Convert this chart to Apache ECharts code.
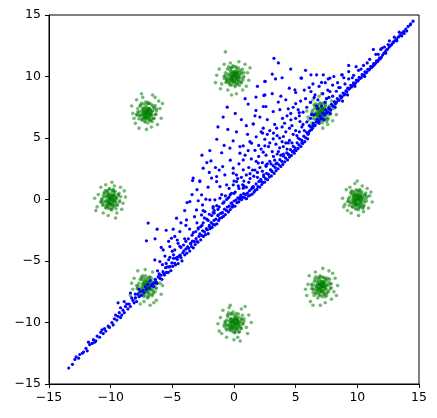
<!DOCTYPE html>
<html>
<head>
<meta charset="utf-8">
<script src="https://cdn.jsdelivr.net/npm/echarts@6/dist/echarts.min.js"></script>
<style>html,body{margin:0;padding:0;background:#fff;}#c{width:437px;height:418px;}</style>
</head>
<body>
<div id="c"></div>
<script>
// Axis ticks
var xTicks = [-15, -10, -5, 0, 5, 10, 15];
var yTicks = [-15, -10, -5, 0, 5, 10, 15];

// Green target clusters
var greenE = [[10.1,0.2],[9.8,-0.1],[10.3,-0.3],[9.6,0.4],[10.0,0.0],[10.4,0.3],[9.9,-0.5],[10.2,-0.2],[9.7,0.1],[10.5,0.0],[9.5,-0.3],[10.1,0.6],[9.9,0.3],[10.3,0.5],[9.6,-0.6],[10.0,-0.4],[10.6,-0.2],[9.4,0.2],[10.2,0.1],[9.8,0.5],[10.4,-0.5],[9.7,-0.2],[10.0,0.4],[10.1,-0.7],[9.9,0.0],[10.3,0.2],[9.5,0.6],[10.6,0.4],[9.8,-0.4],[10.2,-0.6],[9.6,0.0],[10.0,0.7],[10.5,-0.6],[9.3,-0.1],[10.7,0.1],[9.9,-0.8],[10.2,0.8],[9.7,0.3],[11.0,0.3],[9.0,-0.4],[10.4,1.1],[9.5,-1.1],[10.9,-0.7],[9.1,0.8],[10.1,-1.3],[9.8,1.3],[11.2,-0.2],[8.8,0.1],[10.8,0.9],[9.2,-0.9],[10.5,-1.0],[9.4,1.0],[11.1,0.6],[8.9,-0.6],[10.0,1.5]];
var greenECore = [[10.05,0.12],[9.87,-0.08],[10.21,-0.15],[9.93,0.27],[10.14,0.33],[9.78,0.05],[10.32,0.02],[9.96,-0.31],[10.08,-0.02],[9.82,-0.24],[10.27,0.19],[9.71,0.22],[10.17,-0.38],[10.01,0.41],[9.89,0.15],[10.39,-0.21],[9.64,-0.13],[10.11,0.06],[9.94,-0.17],[10.23,0.36],[9.76,0.38],[10.04,-0.44],[10.42,0.14],[9.85,-0.41],[9.98,0.09],[10.28,-0.06],[9.69,-0.33],[10.13,0.25]];
var greenEMid = [[10.62,0.31],[9.41,-0.22],[10.18,0.71],[9.83,-0.69],[10.55,-0.47],[9.47,0.53],[10.74,-0.12],[9.28,0.08],[10.36,0.62],[9.62,-0.58],[10.09,-0.83],[9.91,0.79],[10.68,0.52],[9.35,-0.49],[10.44,-0.73],[9.56,0.71],[10.81,0.24],[9.22,-0.17],[10.25,-0.59],[9.74,0.62]];
var greenNE = [[7.1,7.2],[6.8,6.9],[7.4,6.8],[6.6,7.4],[7.0,7.0],[7.3,7.4],[6.9,6.6],[7.2,6.9],[6.7,7.1],[7.6,7.1],[6.5,6.8],[7.1,7.7],[6.9,7.3],[7.4,7.6],[6.6,6.5],[7.0,6.7],[7.7,6.9],[6.4,7.3],[7.3,7.1],[6.8,7.6],[7.5,6.6],[6.7,6.9],[7.1,7.5],[7.2,6.4],[6.9,7.0],[7.4,7.2],[6.5,7.7],[7.7,7.5],[6.8,6.7],[7.2,6.5],[6.6,7.0],[7.0,7.8],[7.6,6.5],[6.3,7.0],[7.8,7.2],[6.9,6.3],[7.3,7.9],[6.7,7.4],[8.1,7.4],[6.0,6.7],[7.5,8.2],[6.5,6.0],[8.0,6.4],[6.2,7.9],[7.2,5.8],[6.9,8.4],[8.3,6.9],[5.9,7.2],[7.9,8.0],[6.3,6.2],[7.6,6.1],[6.4,8.1],[8.2,7.7],[6.0,6.4],[7.1,8.6]];
var greenNECore = [[7.12,7.18],[6.95,6.99],[7.28,6.92],[7.01,7.34],[7.21,7.40],[6.85,7.11],[7.39,7.09],[7.03,6.76],[7.15,7.05],[6.89,6.83],[7.34,7.26],[6.78,7.29],[7.24,6.69],[7.08,7.48],[6.96,7.22],[7.46,6.86],[6.71,6.94],[7.18,7.13],[7.01,6.90],[7.30,7.43],[6.83,7.45],[7.11,6.63],[7.49,7.21],[6.92,6.66],[7.05,7.16],[7.35,7.01],[6.76,6.74],[7.20,7.32]];
var greenNEMid = [[7.69,7.38],[6.48,6.85],[7.25,7.78],[6.90,6.38],[7.62,6.60],[6.54,7.60],[7.81,6.95],[6.35,7.15],[7.43,7.69],[6.69,6.49],[7.16,6.24],[6.98,7.86],[7.75,7.59],[6.42,6.58],[7.51,6.34],[6.63,7.78],[7.88,7.31],[6.29,6.90],[7.32,6.48],[6.81,7.69]];
var greenN = [[0.1,10.1],[-0.3,9.8],[0.4,10.3],[-0.1,9.6],[0.2,9.9],[-0.5,10.2],[0.3,9.7],[0.0,10.4],[-0.2,10.0],[0.5,9.9],[-0.4,9.5],[0.2,10.6],[-0.6,9.9],[0.6,10.2],[-0.1,10.3],[0.3,9.4],[-0.3,10.5],[0.1,9.8],[0.4,10.0],[-0.5,9.7],[0.0,9.5],[0.7,9.7],[-0.2,10.7],[0.2,10.2],[-0.7,10.3],[0.5,10.5],[-0.4,10.1],[0.1,9.3],[-0.1,10.0],[0.3,10.4],[-0.6,9.6],[0.6,9.5],[0.0,10.8],[-0.3,9.3],[0.4,9.6],[-0.2,9.8],[0.8,10.0],[-0.8,10.0],[1.1,10.3],[-1.0,9.4],[0.4,11.2],[-0.5,8.9],[1.0,9.2],[-1.2,10.6],[0.2,8.6],[-0.3,11.1],[1.3,10.7],[-1.1,9.0],[0.9,11.0],[-0.8,11.0],[0.7,8.9],[-1.4,10.1],[1.2,9.7],[-0.2,8.5],[-1.5,9.5],[-0.7,12.0]];
var greenNCore = [[0.08,10.11],[-0.13,9.92],[0.21,9.85],[-0.06,10.27],[0.14,10.33],[-0.22,10.04],[0.32,10.02],[-0.04,9.69],[0.08,9.98],[-0.18,9.76],[0.27,10.19],[-0.29,10.22],[0.17,9.62],[0.01,10.41],[-0.11,10.15],[0.39,9.79],[-0.36,9.87],[0.11,10.06],[-0.06,9.83],[0.23,10.36],[-0.24,10.38],[0.04,9.56],[0.42,10.14],[-0.15,9.59],[-0.02,10.09],[0.28,9.94],[-0.31,9.67],[0.13,10.25]];
var greenNMid = [[0.62,10.35],[-0.59,9.78],[0.18,10.78],[-0.17,9.31],[0.55,9.53],[-0.53,10.60],[0.74,9.88],[-0.72,10.08],[0.36,10.69],[-0.38,9.42],[0.09,9.17],[-0.09,10.86],[0.68,10.59],[-0.65,9.51],[0.44,9.27],[-0.44,10.78],[0.81,10.31],[-0.78,9.83],[0.25,9.41],[-0.26,10.69]];
var greenNW = [[-7.0,7.1],[-7.3,6.9],[-6.8,7.3],[-7.5,7.2],[-7.1,6.7],[-6.7,6.9],[-7.2,7.5],[-6.9,7.0],[-7.6,6.8],[-7.4,7.4],[-6.6,7.2],[-7.0,6.5],[-7.2,7.0],[-6.8,6.7],[-7.7,7.1],[-6.5,7.5],[-7.3,6.6],[-7.1,7.7],[-6.9,7.4],[-7.5,6.5],[-6.7,6.5],[-7.0,7.3],[-7.8,7.4],[-6.4,6.9],[-7.2,6.3],[-6.9,7.8],[-7.4,7.0],[-6.6,7.6],[-7.1,6.9],[-7.6,7.6],[-6.8,6.4],[-7.3,7.2],[-6.5,6.6],[-7.0,7.9],[-7.9,6.9],[-6.3,7.2],[-7.2,6.6],[-6.9,6.8],[-8.2,7.0],[-6.0,7.4],[-7.4,8.3],[-6.7,5.9],[-8.0,6.2],[-6.1,8.0],[-7.7,5.8],[-6.4,8.3],[-8.3,7.6],[-5.9,6.6],[-7.9,8.1],[-6.2,6.1],[-7.1,5.7],[-6.6,8.5],[-8.1,6.6],[-5.8,7.8],[-7.5,8.6]];
var greenNWCore = [[-7.02,7.15],[-7.19,6.96],[-6.86,6.89],[-7.13,7.31],[-6.93,7.37],[-7.29,7.08],[-6.75,7.06],[-7.11,6.73],[-6.99,7.02],[-7.25,6.80],[-6.80,7.23],[-7.36,7.26],[-6.90,6.66],[-7.06,7.45],[-7.18,7.19],[-6.68,6.83],[-7.43,6.91],[-6.96,7.10],[-7.13,6.87],[-6.84,7.40],[-7.31,7.42],[-7.03,6.60],[-6.65,7.18],[-7.22,6.63],[-7.09,7.13],[-6.79,6.98],[-7.38,6.71],[-6.94,7.29]];
var greenNWMid = [[-6.45,7.40],[-7.66,6.83],[-6.89,7.81],[-7.24,6.36],[-6.52,6.58],[-7.60,7.65],[-6.33,6.93],[-7.79,7.13],[-6.71,7.74],[-7.45,6.47],[-6.98,6.22],[-7.16,7.93],[-6.39,7.64],[-7.72,6.56],[-6.63,6.32],[-7.51,7.83],[-6.26,7.36],[-7.85,6.88],[-6.82,6.46],[-7.33,7.76]];
var greenW = [[-10.1,0.1],[-9.8,-0.2],[-10.3,0.3],[-9.7,0.4],[-10.0,-0.4],[-10.4,-0.1],[-9.9,0.6],[-10.2,-0.6],[-9.6,-0.1],[-10.5,0.2],[-10.0,0.2],[-9.8,0.3],[-10.2,0.5],[-10.6,-0.4],[-9.5,0.1],[-10.1,-0.3],[-9.9,-0.7],[-10.3,0.7],[-9.7,-0.5],[-10.7,0.0],[-9.4,0.4],[-10.0,0.0],[-10.4,-0.7],[-9.8,0.8],[-10.2,-0.2],[-9.6,0.2],[-10.5,0.5],[-10.1,0.4],[-9.9,-0.4],[-10.3,-0.5],[-9.5,-0.4],[-10.0,-0.8],[-10.6,0.3],[-9.3,-0.2],[-10.8,-0.2],[-9.7,0.6],[-10.1,0.9],[-9.9,0.0],[-11.0,0.4],[-9.0,-0.3],[-10.4,1.2],[-9.5,-1.1],[-11.1,-0.6],[-8.9,0.7],[-10.2,-1.3],[-9.7,1.1],[-11.3,0.1],[-9.1,-0.8],[-10.8,1.0],[-9.2,1.0],[-10.6,-1.1],[-9.6,-1.5],[-11.2,-0.9],[-8.8,0.2],[-9.9,1.4]];
var greenWCore = [[-9.95,0.09],[-10.13,-0.10],[-9.79,-0.17],[-10.06,0.25],[-9.86,0.31],[-10.22,0.02],[-9.68,0.00],[-10.04,-0.33],[-9.92,-0.04],[-10.18,-0.26],[-9.73,0.17],[-10.29,0.20],[-9.83,-0.40],[-9.99,0.39],[-10.11,0.13],[-9.61,-0.23],[-10.36,-0.15],[-9.89,0.04],[-10.06,-0.19],[-9.77,0.34],[-10.24,0.36],[-9.96,-0.46],[-9.58,0.12],[-10.15,-0.43],[-10.02,0.07],[-9.72,-0.08],[-10.31,-0.35],[-9.87,0.23]];
var greenWMid = [[-9.38,0.35],[-10.59,-0.20],[-9.82,0.74],[-10.17,-0.71],[-9.45,-0.49],[-10.53,0.55],[-9.26,-0.10],[-10.72,0.06],[-9.64,0.67],[-10.38,-0.60],[-9.91,-0.85],[-10.09,0.81],[-9.32,0.50],[-10.65,-0.47],[-9.56,-0.75],[-10.44,0.73],[-9.19,0.22],[-10.78,-0.19],[-9.75,-0.61],[-10.26,0.64]];
var greenSW = [[-7.1,-7.0],[-6.8,-7.3],[-7.4,-6.9],[-6.9,-6.6],[-7.2,-7.4],[-7.5,-7.1],[-6.7,-7.0],[-7.0,-7.6],[-7.3,-6.7],[-6.6,-7.4],[-7.6,-7.5],[-7.0,-6.8],[-6.8,-6.9],[-7.4,-7.3],[-7.2,-6.5],[-6.5,-7.1],[-7.7,-6.8],[-6.9,-7.8],[-7.1,-7.2],[-7.3,-7.9],[-6.7,-6.6],[-7.8,-7.2],[-6.4,-6.9],[-7.0,-6.4],[-7.5,-6.5],[-6.6,-7.7],[-7.2,-7.0],[-6.9,-7.2],[-7.6,-7.8],[-6.4,-7.5],[-7.9,-7.0],[-7.1,-6.6],[-6.8,-6.3],[-7.3,-7.5],[-6.6,-6.8],[-7.4,-6.2],[-7.0,-8.0],[-6.3,-7.2],[-8.2,-7.3],[-6.0,-6.8],[-7.3,-8.3],[-6.6,-5.9],[-8.1,-6.4],[-5.9,-7.7],[-7.8,-5.8],[-6.3,-8.2],[-8.4,-7.8],[-6.1,-6.2],[-7.6,-8.5],[-5.8,-7.0],[-8.0,-8.0],[-6.8,-8.6],[-7.2,-5.7],[-8.3,-6.8],[-6.5,-8.4]];
var greenSWCore = [[-7.02,-7.15],[-7.19,-6.96],[-6.86,-7.25],[-7.13,-6.83],[-6.93,-6.77],[-7.29,-7.06],[-6.75,-7.08],[-7.11,-7.41],[-6.99,-7.12],[-7.25,-7.34],[-6.80,-6.91],[-7.36,-6.88],[-6.90,-7.48],[-7.06,-6.69],[-7.18,-6.95],[-6.68,-7.31],[-7.43,-7.23],[-6.96,-7.04],[-7.13,-7.27],[-6.84,-6.74],[-7.31,-6.72],[-7.03,-7.54],[-6.65,-6.96],[-7.22,-7.51],[-7.09,-7.01],[-6.79,-7.16],[-7.38,-7.43],[-6.94,-6.85]];
var greenSWMid = [[-6.45,-6.74],[-7.66,-7.31],[-6.89,-6.33],[-7.24,-7.78],[-6.52,-7.56],[-7.60,-6.49],[-6.33,-7.21],[-7.79,-7.01],[-6.71,-6.40],[-7.45,-7.67],[-6.98,-7.92],[-7.16,-6.21],[-6.39,-6.50],[-7.72,-7.58],[-6.63,-7.82],[-7.51,-6.31],[-6.26,-6.78],[-7.85,-7.26],[-6.82,-7.68],[-7.33,-6.38]];
var greenS = [[0.0,-10.1],[0.3,-9.8],[-0.2,-10.3],[0.4,-10.2],[-0.4,-9.9],[0.1,-9.6],[-0.1,-10.5],[0.5,-10.0],[-0.3,-9.7],[0.2,-10.4],[-0.5,-10.2],[0.6,-9.7],[-0.2,-10.0],[0.1,-10.7],[-0.6,-9.8],[0.3,-10.5],[0.0,-9.4],[-0.4,-10.4],[0.5,-10.3],[-0.1,-9.8],[0.7,-10.1],[-0.3,-10.6],[0.2,-9.5],[-0.7,-10.0],[0.4,-9.6],[-0.2,-9.3],[0.3,-10.0],[-0.5,-9.5],[0.0,-10.8],[0.6,-10.5],[-0.6,-10.6],[0.1,-10.2],[-0.3,-10.1],[0.8,-9.9],[-0.8,-10.3],[0.2,-9.8],[-0.1,-9.9],[0.4,-10.8],[1.0,-10.4],[-1.1,-9.6],[0.3,-11.2],[-0.4,-8.8],[1.2,-9.4],[-1.0,-10.9],[0.6,-8.9],[-0.6,-11.2],[1.1,-10.9],[-1.3,-10.1],[0.9,-8.7],[-0.9,-9.0],[0.0,-11.4],[1.4,-10.0],[-1.2,-10.7],[0.5,-11.5],[-0.3,-8.6]];
var greenSCore = [[0.06,-10.12],[-0.11,-9.93],[0.22,-10.21],[-0.05,-9.80],[0.15,-9.74],[-0.21,-10.03],[0.33,-10.05],[-0.03,-10.38],[0.09,-10.09],[-0.17,-10.31],[0.28,-9.88],[-0.28,-9.85],[0.18,-10.45],[0.02,-9.66],[-0.10,-9.92],[0.40,-10.28],[-0.35,-10.20],[0.12,-10.01],[-0.05,-10.24],[0.24,-9.71],[-0.23,-9.69],[0.05,-10.51],[0.43,-9.93],[-0.14,-10.48],[-0.01,-9.98],[0.29,-10.13],[-0.30,-10.40],[0.14,-9.82]];
var greenSMid = [[0.62,-9.79],[-0.59,-10.22],[0.18,-9.26],[-0.17,-10.69],[0.55,-10.47],[-0.53,-9.40],[0.74,-10.12],[-0.72,-9.92],[0.36,-9.31],[-0.38,-10.58],[0.09,-10.83],[-0.09,-9.14],[0.68,-9.41],[-0.65,-10.49],[0.44,-10.73],[-0.44,-9.22],[0.81,-9.69],[-0.78,-10.17],[0.25,-10.59],[-0.26,-9.31]];
var greenSE = [[7.1,-7.1],[6.8,-6.9],[7.4,-7.3],[7.0,-6.6],[6.7,-7.4],[7.3,-6.8],[7.6,-7.0],[6.9,-7.6],[7.2,-7.4],[6.6,-7.0],[7.5,-6.6],[7.0,-7.8],[6.8,-7.2],[7.4,-6.5],[7.7,-7.4],[6.5,-6.7],[7.1,-6.9],[6.9,-6.4],[7.3,-7.7],[6.6,-7.6],[7.8,-6.9],[7.2,-6.3],[6.4,-7.3],[7.0,-7.2],[7.5,-7.6],[6.7,-6.6],[7.3,-7.1],[6.8,-8.0],[7.6,-6.4],[6.3,-6.9],[7.1,-7.5],[7.9,-7.2],[6.9,-6.9],[7.4,-7.9],[6.5,-7.8],[7.2,-6.7],[6.7,-7.1],[7.0,-6.3],[8.1,-7.5],[6.0,-6.9],[7.4,-8.4],[6.6,-5.9],[8.2,-6.4],[5.9,-7.8],[7.7,-5.8],[6.2,-8.3],[8.4,-7.0],[6.1,-6.2],[7.9,-8.1],[5.8,-7.3],[7.0,-8.6],[8.0,-6.0],[6.4,-8.6],[8.3,-7.8],[7.2,-5.6]];
var greenSECore = [[7.13,-7.02],[6.96,-7.21],[7.29,-7.14],[7.02,-6.79],[7.22,-6.73],[6.86,-7.04],[7.40,-7.06],[7.04,-7.39],[7.16,-7.09],[6.90,-7.31],[7.35,-6.88],[6.79,-6.85],[7.25,-7.45],[7.09,-6.66],[6.97,-6.92],[7.47,-7.28],[6.72,-7.20],[7.19,-7.01],[7.02,-7.24],[7.31,-6.71],[6.84,-6.69],[7.12,-7.51],[7.50,-6.93],[6.93,-7.48],[7.06,-6.98],[7.36,-7.13],[6.77,-7.40],[7.21,-6.82]];
var greenSEMid = [[7.69,-6.76],[6.48,-7.29],[7.25,-6.36],[6.90,-7.76],[7.62,-7.54],[6.54,-6.47],[7.81,-7.19],[6.35,-6.99],[7.43,-6.38],[6.69,-7.65],[7.16,-7.90],[6.98,-6.20],[7.75,-6.49],[6.42,-7.56],[7.51,-7.80],[6.63,-6.29],[7.88,-6.83],[6.29,-7.24],[7.32,-7.66],[6.81,-6.38]];

// Blue generated samples
var blueTail = [[-13.4,-13.7],[-13.1,-13.4],[-12.9,-13.0],[-12.6,-12.9],[-12.5,-12.6],[-12.2,-12.4],[-12.0,-12.1],[-11.9,-12.3],[-11.7,-11.8],[-11.5,-11.7],[-11.4,-11.4],[-11.2,-11.5],[-11.1,-11.1],[-10.9,-11.2],[-10.8,-10.8],[-10.6,-10.9],[-10.5,-10.5],[-10.4,-10.7],[-10.2,-10.3],[-10.1,-10.4],[-9.9,-10.0],[-9.8,-10.2],[-9.7,-9.7],[-9.5,-9.8],[-9.4,-9.5],[-9.3,-9.2],[-9.1,-9.4],[-9.0,-9.0],[-8.9,-9.2],[-8.8,-8.7],[-8.6,-8.9],[-8.5,-8.5],[-8.4,-8.7],[-8.2,-8.2],[-8.1,-8.4],[-8.0,-8.0],[-7.9,-8.3],[-7.8,-7.7],[-7.7,-7.9],[-7.6,-7.5],[-7.5,-7.8],[-7.4,-7.4],[-7.3,-7.6],[-7.2,-7.1],[-7.1,-7.3],[-7.0,-6.9],[-6.9,-7.2],[-6.8,-6.6],[-6.7,-7.0],[-12.8,-12.8],[-11.8,-11.6],[-10.7,-10.6],[-9.6,-9.4],[-8.7,-8.5],[-8.3,-8.0],[-11.3,-11.6],[-12.3,-12.5],[-9.2,-9.6],[-8.0,-7.7],[-7.7,-7.3],[-9.4,-8.4],[-9.2,-8.8],[-8.4,-7.6],[-8.9,-8.3]];
var blueBandLow = [[-6.60,-6.85],[-6.52,-7.08],[-6.47,-6.78],[-6.38,-6.50],[-6.30,-6.71],[-6.25,-6.83],[-6.14,-6.29],[-6.06,-6.04],[-6.01,-6.41],[-5.92,-6.16],[-5.85,-6.49],[-5.76,-5.87],[-5.70,-6.02],[-5.63,-6.14],[-5.55,-5.54],[-5.48,-5.93],[-5.40,-5.47],[-5.33,-5.93],[-5.27,-5.48],[-5.18,-5.45],[-5.12,-5.79],[-5.04,-5.16],[-4.97,-5.43],[-4.90,-4.78],[-4.82,-5.17],[-4.74,-5.31],[-4.69,-4.76],[-4.60,-4.86],[-4.53,-5.21],[-4.45,-4.60],[-4.36,-4.53],[-4.30,-4.72],[-4.22,-4.99],[-4.15,-4.33],[-4.06,-4.17],[-3.99,-4.50],[-3.90,-4.01],[-3.83,-4.36],[-3.76,-3.85],[-3.68,-3.97],[-3.59,-4.19],[-3.52,-3.56],[-3.45,-3.82],[-3.37,-3.39],[-3.30,-3.93],[-3.22,-3.41],[-3.15,-3.66],[-3.07,-3.18],[-3.00,-3.42],[-2.93,-3.47],[-2.84,-2.99],[-2.77,-2.79],[-2.70,-3.29],[-2.61,-2.92],[-2.54,-2.55],[-2.48,-3.00],[-2.39,-2.62],[-2.31,-2.86],[-2.24,-2.37],[-2.16,-2.45],[-2.09,-2.78],[-2.00,-2.11],[-1.93,-2.37],[-1.85,-1.87],[-1.77,-2.26],[-1.70,-2.03],[-1.62,-1.69],[-1.55,-2.07],[-1.47,-1.60],[-1.39,-1.98],[-1.31,-1.31],[-1.24,-1.70],[-1.16,-1.53],[-1.08,-1.12],[-1.00,-1.48],[-0.93,-1.06],[-0.85,-1.37],[-0.77,-0.79],[-0.70,-1.22],[-0.62,-0.88],[-0.54,-0.61],[-0.46,-1.01],[-0.39,-0.54],[-0.31,-0.83],[-0.23,-0.29],[-0.15,-0.62],[-0.08,-0.48],[0.00,-0.12],[0.08,-0.55],[0.16,-0.05],[0.24,-0.26],[0.31,0.13],[0.39,-0.19],[0.47,0.02],[0.55,0.36],[0.62,-0.01],[0.70,0.20],[0.78,0.48],[0.86,0.15],[0.93,0.41]];
var blueBandMid = [[1.01,0.07],[1.09,0.52],[1.17,0.29],[1.25,0.71],[1.32,0.36],[1.40,0.85],[1.48,0.44],[1.56,0.97],[1.63,0.60],[1.71,0.74],[1.79,1.27],[1.86,0.82],[1.94,1.05],[2.02,1.47],[2.10,1.01],[2.17,1.63],[2.25,1.22],[2.33,1.39],[2.41,1.86],[2.48,1.41],[2.56,1.70],[2.64,2.13],[2.72,1.61],[2.79,2.05],[2.87,1.83],[2.95,2.41],[3.03,1.92],[3.10,2.26],[3.18,2.75],[3.26,2.12],[3.34,2.60],[3.41,2.34],[3.49,2.95],[3.57,2.50],[3.65,2.82],[3.72,3.24],[3.80,2.68],[3.88,3.10],[3.96,2.85],[4.03,3.52],[4.11,3.06],[4.19,3.37],[4.27,3.79],[4.34,3.22],[4.42,3.66],[4.50,3.45],[4.58,4.05],[4.65,3.58],[4.73,3.90],[4.81,4.32],[4.89,3.76],[4.96,4.20],[5.04,3.98],[5.12,4.61],[5.20,4.15],[5.27,4.44],[5.35,4.90],[5.43,4.31],[5.51,4.80],[5.58,4.56],[5.66,5.15],[5.74,4.70],[5.82,5.02],[5.89,5.46],[5.97,4.93]];
var blueBandHigh = [[6.05,5.40],[6.13,5.58],[6.20,5.93],[6.28,5.68],[6.36,5.79],[6.44,6.21],[6.51,5.99],[6.59,6.05],[6.67,6.30],[6.75,6.52],[6.82,6.28],[6.90,6.41],[6.98,6.79],[7.06,6.55],[7.13,6.60],[7.21,7.02],[7.29,6.88],[7.37,6.95],[7.44,7.30],[7.52,7.05],[7.60,7.12],[7.68,7.45],[7.75,7.38],[7.83,7.28],[7.91,7.74],[7.99,7.60],[8.06,7.58],[8.14,7.95],[8.22,7.80],[8.30,7.88],[8.37,8.21],[8.45,8.05],[8.53,8.08],[8.61,8.42],[8.68,8.26],[8.76,8.35],[8.84,8.66],[8.92,8.50],[8.99,8.57],[9.07,8.83],[9.15,8.76],[9.22,9.05],[9.30,8.97],[9.38,9.02],[9.46,9.28],[9.53,9.15],[9.61,9.26],[9.69,9.49],[9.77,9.40],[9.84,9.46],[9.92,9.71],[10.00,9.62],[10.08,9.69],[10.15,9.93],[10.23,9.85],[10.31,9.90],[10.39,10.16],[10.46,10.07],[10.54,10.13],[10.62,10.38],[10.70,10.30],[10.77,10.36],[10.85,10.59],[10.93,10.52],[11.01,10.60],[11.08,10.81],[11.16,10.74],[11.24,10.83],[11.32,11.04],[11.39,10.97],[11.47,11.07],[11.55,11.27],[11.63,11.20],[11.70,11.31],[11.78,11.50],[11.86,11.44],[11.94,11.56],[12.05,11.74],[12.16,11.89],[12.24,11.98],[12.35,12.14],[12.46,12.23],[12.58,12.39],[12.67,12.50],[12.79,12.61],[12.92,12.77],[13.04,12.90],[13.17,13.03],[13.31,13.20],[13.45,13.33],[13.60,13.52],[13.76,13.68],[13.93,13.86],[14.12,14.07],[14.33,14.29],[14.52,14.50]];
var blueBandExtra = [[-5.5,-5.2],[-4.9,-4.5],[-4.3,-3.9],[-3.7,-3.2],[-3.1,-2.6],[-2.6,-2.1],[-2.2,-1.6],[-1.8,-1.3],[-1.3,-0.8],[-0.9,-0.3],[-0.6,0.0],[-0.3,0.4],[0.1,0.6],[0.4,0.9],[0.7,1.2],[1.0,1.0],[1.3,1.7],[1.6,1.9],[1.9,2.2],[2.1,2.6],[2.4,2.0],[2.6,2.8],[2.9,3.1],[3.2,3.5],[3.5,3.7],[3.7,4.2],[4.0,4.3],[4.2,4.6],[4.5,4.8],[4.8,5.3],[5.0,5.6],[5.3,5.5],[5.6,6.1],[5.9,6.3],[6.2,6.6],[6.5,6.9],[6.8,7.4],[7.1,7.6],[7.4,7.9],[7.7,8.3],[8.0,8.4],[8.3,8.8],[8.6,9.1],[9.0,9.4],[9.3,9.8],[9.7,10.1],[10.1,10.5],[10.5,10.9],[11.0,11.4],[11.5,11.8],[12.0,12.3],[12.6,12.9],[3.0,2.4],[3.4,2.9],[4.4,3.7],[4.9,4.0],[5.5,4.6],[6.0,5.3],[1.5,1.0],[2.2,1.5],[-0.2,-0.3],[0.5,0.2],[-1.0,-1.1],[-2.0,-2.2],[-3.5,-3.6],[-4.6,-4.7],[6.4,6.0],[6.9,6.2],[7.3,6.5],[7.8,7.0],[8.2,7.5],[8.8,8.0],[9.2,8.5],[9.8,9.2],[10.6,10.0],[11.3,10.9],[12.3,11.9],[13.2,12.9],[13.8,13.5],[14.3,14.2],[12.9,12.8],[13.4,13.6],[11.7,11.8],[10.8,11.1],[9.6,9.9],[13.6,13.3],[14.0,13.7],[12.2,12.4],[13.0,13.2],[10.3,10.6],[11.9,12.2],[12.5,12.6]];
var blueNearBand = [[-6.2,-5.8],[-5.8,-5.3],[-5.3,-4.9],[-4.8,-4.1],[-4.4,-3.8],[-3.9,-3.4],[-3.4,-2.9],[-2.9,-2.4],[-2.5,-1.9],[-2.1,-1.7],[-1.6,-1.1],[-1.2,-0.6],[-0.8,-0.2],[-0.4,0.2],[0.0,0.5],[0.35,1.1],[0.8,1.5],[1.2,1.4],[1.7,2.4],[2.3,2.3],[2.7,2.9],[3.3,3.2],[3.8,3.6],[4.3,4.1],[4.7,4.6],[5.2,5.0],[5.7,5.6],[6.1,6.0]];
var blueUpper = [[-0.55,7.51],[-0.88,6.7],[1.78,8.33],[2.5,8.5],[2.5,9.6],[1.15,7.76],[1.56,6.16],[1.78,7.24],[2.38,7.56],[3.24,11.48],[3.1,10.2],[2.53,9.6],[3.37,9.8],[5.43,9.87],[6.24,10.14],[6.7,10.14],[7.24,10.14],[7.1,9.52],[7.64,9.8],[8.73,10.14],[4.48,9.05],[4.94,8.92],[5.0,8.7],[6.24,8.78],[6.57,8.51],[7.78,8.78],[2.42,8.46],[3.59,7.92],[2.59,7.56],[3.18,7.15],[2.1,6.7],[3.72,7.3],[4.4,7.37],[5.2,7.3],[5.29,7.07],[3.94,6.6],[4.61,6.48],[5.35,6.34],[3.46,5.8],[2.37,5.8],[2.32,5.4],[3.18,4.93],[4.0,5.12],[2.5,4.36],[5.48,9.87],[8.78,10.14],[7.78,9.87],[11.3,12.2]];
var blueMiddle = [[-0.07,4.77],[-1.96,3.98],[-2.5,2.55],[-3.31,1.74],[-1.87,3.14],[-1.0,3.8],[-0.33,4.18],[0.48,4.3],[1.29,4.7],[-0.92,2.68],[-0.06,2.55],[0.75,3.22],[1.8,5.1],[2.2,5.5],[2.7,5.3],[1.56,6.13],[0.75,4.36],[1.42,4.58],[0.48,3.77],[1.15,3.98],[2.37,3.85],[1.97,2.96],[0.75,2.41],[-0.06,2.14],[-0.74,2.0],[-1.41,1.87],[-1.82,1.74],[-2.77,1.52],[-1.14,1.05],[-0.06,1.19],[0.75,0.92],[1.56,1.05],[-2.28,0.03],[-1.55,-0.03],[-2.55,-0.44],[-1.69,-1.06],[-0.6,1.19],[-1.41,1.46],[0.21,1.46],[-0.2,0.51]];
var blueLower = [[-6.96,-1.92],[-7.1,-3.36],[-6.23,-2.41],[-4.66,-1.52],[-3.36,1.54],[-2.77,1.46],[-4.93,-2.41],[-4.39,-2.61],[-5.07,-3.15],[-4.53,-3.56],[-5.2,-3.83],[-5.74,-4.1],[-6.42,-4.91],[-6.01,-5.05],[-3.85,-1.66],[-3.04,-0.85],[-2.63,-1.25],[-3.58,-0.17],[-3.8,-0.25],[-2.63,0.38],[-1.96,-0.03],[-2.36,-0.98],[-1.69,-0.57],[-1.14,0.11],[-1.28,-1.25]];
var blueFan = [[-5.6,-4.6],[-5.0,-4.2],[-4.6,-3.3],[-4.0,-3.2],[-3.6,-2.4],[-3.3,-2.7],[-3.0,-1.9],[-2.7,-2.2],[-2.4,-1.5],[-2.0,-1.2],[-1.7,-0.7],[-1.4,-0.5],[-1.0,0.4],[-0.7,0.3],[-0.4,0.9],[0.0,1.5],[0.3,1.7],[0.6,1.8],[1.0,2.0],[1.2,2.6],[1.5,2.4],[1.8,3.1],[2.0,3.5],[2.3,3.0],[2.6,3.6],[2.8,4.3],[3.1,3.9],[3.4,4.5],[3.7,5.0],[3.9,4.7],[4.2,5.5],[4.5,5.8],[4.7,6.0],[5.0,6.6],[5.3,6.8],[5.6,7.1],[5.9,7.5],[6.2,7.9],[6.5,8.3],[6.8,8.1],[7.2,8.6],[7.6,8.9],[8.0,9.3],[8.4,9.5],[8.9,9.9],[9.3,10.4],[9.9,10.8],[4.1,6.2],[3.3,6.1],[2.9,5.6],[4.8,7.5],[5.8,8.2],[3.8,8.4],[2.0,4.4],[1.1,5.3],[0.2,5.5],[-0.5,5.7],[0.6,6.5],[-1.4,4.9],[-2.2,3.0],[-3.0,0.8],[-2.0,2.2],[-4.0,-0.9],[-5.5,-2.5],[1.9,9.2],[3.9,9.9],[4.6,10.6],[3.6,11.1],[5.8,10.5],[9.3,10.9],[0.9,8.2],[-1.3,5.9],[-2.6,3.6],[0.1,7.0]];
var blueFan2 = [[0.4,2.9],[0.9,3.6],[1.4,3.3],[1.7,4.0],[2.2,4.1],[2.5,4.9],[2.9,4.6],[3.2,5.4],[3.5,5.2],[3.9,5.9],[4.3,6.8],[4.6,7.0],[5.0,7.8],[5.4,8.0],[5.7,8.9],[6.1,9.1],[6.4,9.4],[6.9,9.2],[7.4,9.5],[8.1,10.0],[1.0,6.0],[1.7,6.8],[2.7,6.5],[3.1,8.6],[4.2,8.1],[-0.3,3.2],[-0.8,4.4],[-1.5,2.6],[-2.1,1.0],[-2.5,-0.9],[-3.2,-1.4],[-3.9,-2.1],[-4.3,-1.9],[-4.8,-3.0],[-5.3,-3.4],[-5.9,-3.9],[-6.4,-3.2],[-3.4,0.4],[-2.9,-0.1],[-1.2,2.4],[0.2,2.0],[1.3,2.1],[2.6,2.7],[3.6,3.9],[4.4,4.6],[5.1,5.2],[5.5,5.9],[6.3,6.9],[4.0,3.7],[3.0,2.9],[1.9,1.8],[0.8,1.1],[-0.5,0.1],[-1.6,-0.9],[-2.9,-2.3],[-4.1,-3.7],[-5.2,-4.7],[6.7,7.6],[7.5,8.2],[8.5,9.1]];

var greenAll = [].concat(greenE, greenEMid, greenECore, greenNE, greenNEMid, greenNECore, greenN, greenNMid, greenNCore,
  greenNW, greenNWMid, greenNWCore, greenW, greenWMid, greenWCore, greenSW, greenSWMid, greenSWCore,
  greenS, greenSMid, greenSCore, greenSE, greenSEMid, greenSECore);
var blueAll = [].concat(blueTail, blueBandLow, blueBandMid, blueBandHigh, blueBandExtra, blueNearBand,
  blueUpper, blueMiddle, blueLower, blueFan, blueFan2);

function fmt(v) { return String(v).replace('-', '\u2212'); }

var chart = echarts.init(document.getElementById('c'), null, { renderer: 'canvas' });
chart.setOption({
  animation: false,
  backgroundColor: '#ffffff',
  grid: { left: 49, right: 18, top: 15, bottom: 34, show: true, borderColor: '#000', borderWidth: 1, containLabel: false },
  xAxis: {
    type: 'value', min: xTicks[0], max: xTicks[xTicks.length - 1], interval: 5,
    axisLine: { show: true, onZero: false, lineStyle: { color: '#000', width: 1 } },
    axisTick: { show: true, length: 4, lineStyle: { color: '#000', width: 1 } },
    axisLabel: { color: '#000', fontSize: 12.5, fontFamily: 'DejaVu Sans', margin: 7, formatter: fmt },
    splitLine: { show: false }
  },
  yAxis: {
    type: 'value', min: yTicks[0], max: yTicks[yTicks.length - 1], interval: 5,
    axisLine: { show: true, onZero: false, lineStyle: { color: '#000', width: 1 } },
    axisTick: { show: true, length: 4, lineStyle: { color: '#000', width: 1 } },
    axisLabel: { color: '#000', fontSize: 12.5, fontFamily: 'DejaVu Sans', margin: 8, formatter: fmt },
    splitLine: { show: false }
  },
  series: [
    { type: 'scatter', data: greenAll, symbol: 'circle', symbolSize: 3.6, itemStyle: { color: '#008000', opacity: 0.55 }, silent: true },
    { type: 'scatter', data: blueAll, symbol: 'circle', symbolSize: 3.2, itemStyle: { color: '#0000ff', opacity: 1 }, silent: true }
  ]
});
</script>
</body>
</html>
